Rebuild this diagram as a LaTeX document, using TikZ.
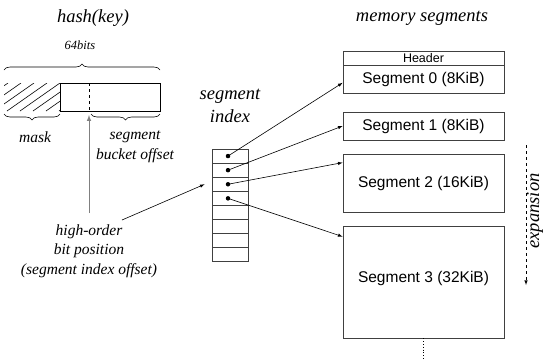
\documentclass[tikz,border=0pt]{standalone}
\usepackage{fontspec}
\setmainfont{Liberation Serif}
\setsansfont{Liberation Sans}
\usetikzlibrary{positioning,decorations.pathreplacing}

\tikzset{
ttl/.style={font=\itshape\fontsize{18.5}{23}\selectfont,align=center,inner sep=0pt},
lbl/.style={font=\itshape\fontsize{15.5}{19.5}\selectfont,align=center,inner sep=0pt},
segbox/.style={draw=black!75,line width=.8pt,minimum width=161pt,inner sep=0pt,
  font=\sffamily\fontsize{15.5}{18}\selectfont},
idxcell/.style={draw=black!75,line width=.8pt,minimum width=36pt,minimum height=14.1pt,inner sep=0pt},
dot/.style={circle,fill,inner sep=0pt,minimum size=4.5pt},
ptr/.style={-latex,line width=.6pt},
brc/.style={decorate,decoration={brace,amplitude=6pt},line width=.6pt},
}

\begin{document}
\begin{tikzpicture}[x=1pt,y=-1pt]
\useasboundingbox (0,0) rectangle (543,360);
% the hash value
\node[ttl] (hash) at (93,18) {hash(key)};
\node[font=\itshape\fontsize{12.5}{15}\selectfont] (bits) at (80,45) {64bits};
\begin{scope}
\clip (4,83) rectangle (60,111);
\foreach \x in {-32,-19,...,60}
  \draw[line width=.6pt] (\x,111) -- ++(40,-28);
\end{scope}
\draw[line width=.8pt] (60,83) rectangle (160,111);
\draw[dashed,line width=.6pt] (89,83) -- (89,111);
\draw[brc] (4,70) -- (160,70);
\draw[brc] (60,114) -- (4,114);
\draw[brc] (160,114) -- (91,114);
\node[lbl] (mask) at (35,137) {mask};
\node[lbl] (sbo) at (135,147) {segment\\bucket offset};
\node[lbl] (hob) at (89,251) {high-order\\bit position\\(segment index offset)};
\coordinate (hob-top) at (89,213);
\coordinate (hob-tip) at (122,220);
\draw[ptr,draw=black!50,line width=1pt] (hob-top) -- (89,115);

% segment index
\node[ttl] (sidx) at (230,106) {segment\\index};
\foreach \i in {1,...,8}
  \node[idxcell] (idx-\i) at (230,{149+14.1*(\i-.5)}) {};
\foreach \i in {1,...,4}
  \node[dot] (dot-\i) at ([xshift=-2pt]idx-\i.center) {};
\draw[ptr] (hob-tip) -- ([xshift=-7pt]idx-3.west);

% memory segments
\node[ttl] (mem) at (422,18) {memory segments};
\node[segbox,minimum height=14pt,font=\sffamily\fontsize{12.5}{14}\selectfont] (hdr) at (423.5,58) {Header};
\node[segbox,minimum height=28pt,below=0pt of hdr] (seg-0) {Segment 0 (8KiB)};
\node[segbox,minimum height=28pt] (seg-1) at (423.5,126) {Segment 1 (8KiB)};
\node[segbox,minimum height=58pt] (seg-2) at (423.5,183) {Segment 2 (16KiB)};
\node[segbox,minimum height=112pt,text depth=10pt] (seg-3) at (423.5,282) {Segment 3 (32KiB)};
\draw[ptr] (dot-1.center) -- ([yshift=-3pt]seg-0.west);
\draw[ptr] (dot-2.center) -- (seg-1.west);
\draw[ptr] (dot-3.center) -- ([yshift=-9pt]seg-2.north west);
\draw[ptr] (dot-4.center) -- ([yshift=-11pt]seg-3.north west);
\draw[dotted,line width=.8pt] (seg-3.south) -- ++(0,20);

% growth direction
\coordinate (exp-top) at (526,145);
\coordinate (exp-end) at (526,285);
\draw[ptr,dashed] (exp-top) -- (exp-end);
\node[ttl,rotate=90] (exp) at (535,211) {expansion};
\end{tikzpicture}
\end{document}
